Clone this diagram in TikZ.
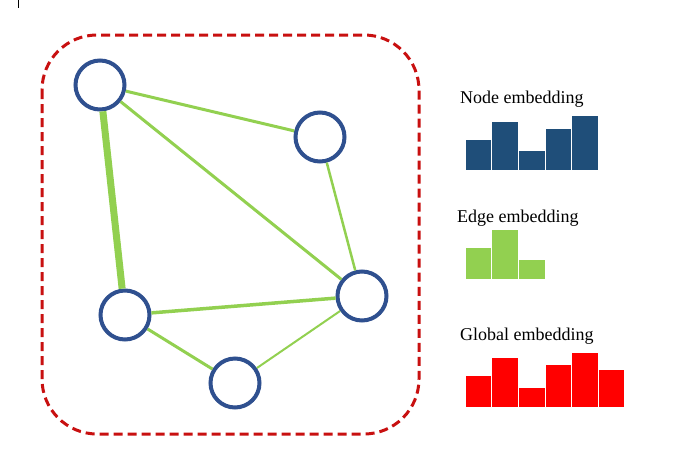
\documentclass[tikz,border=0pt]{standalone}
\usepackage{fontspec}
\setmainfont{Liberation Serif}
\definecolor{nodeblue}{RGB}{47,80,143}
\definecolor{barblue}{RGB}{31,78,121}
\definecolor{edgegreen}{RGB}{146,208,80}
\definecolor{boxred}{RGB}{200,16,16}
\definecolor{barred}{RGB}{255,0,0}
\begin{document}
\begin{tikzpicture}[x=1pt,y=-1pt,
	vertex/.style={circle, draw=nodeblue, line width=4pt, minimum size=49pt, inner sep=0pt},
	link/.style={draw=edgegreen, line width=#1},
	label/.style={anchor=base west, inner sep=0pt, font=\fontsize{18}{20}\selectfont},
	bar/.style={draw=white, line width=0.6pt}]
	\useasboundingbox (0,0) rectangle (677,472);
	\draw[black, line width=0.8pt] (18,0) -- (18,8);
	% graph
	\draw[boxred, line width=3pt, dash pattern=on 9pt off 5pt, rounded corners=55pt] (42,35) rectangle (419,434);
	\node[vertex] (a) at (100,85) {};
	\node[vertex] (b) at (320,137) {};
	\node[vertex] (c) at (125,315) {};
	\node[vertex] (d) at (362,296) {};
	\node[vertex] (e) at (235,383) {};
	\draw[link=3pt] (a) -- (b);
	\draw[link=3pt] (a) -- (d);
	\draw[link=7pt] (a) -- (c);
	\draw[link=2.5pt] (b) -- (d);
	\draw[link=3.5pt] (c) -- (d);
	\draw[link=3pt] (c) -- (e);
	\draw[link=2pt] (e) -- (d);
	% embeddings
	\node[label] (nodelabel) at (460,103) {Node embedding};
	\fill[barblue, bar] (465,170) rectangle (491.6,139);
	\fill[barblue, bar] (491.6,170) rectangle (518.2,121);
	\fill[barblue, bar] (518.2,170) rectangle (544.8,150);
	\fill[barblue, bar] (544.8,170) rectangle (571.4,128);
	\fill[barblue, bar] (571.4,170) rectangle (598,115);
	\node[label] (edgelabel) at (457,222) {Edge embedding};
	\fill[edgegreen, bar] (465,279) rectangle (491.6,247);
	\fill[edgegreen, bar] (491.6,279) rectangle (518.2,229);
	\fill[edgegreen, bar] (518.2,279) rectangle (544.8,259);
	\node[label] (globallabel) at (460,340) {Global embedding};
	\fill[barred, bar] (465,407) rectangle (491.6,375);
	\fill[barred, bar] (491.6,407) rectangle (518.2,357);
	\fill[barred, bar] (518.2,407) rectangle (544.8,387);
	\fill[barred, bar] (544.8,407) rectangle (571.4,364);
	\fill[barred, bar] (571.4,407) rectangle (598,352);
	\fill[barred, bar] (598,407) rectangle (624.6,369);
\end{tikzpicture}
\end{document}
